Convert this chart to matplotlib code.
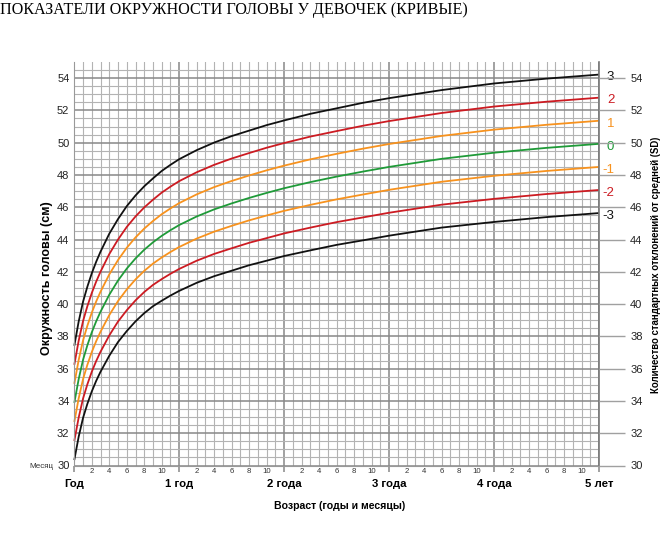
import numpy as np
import matplotlib.pyplot as plt

# WHO head circumference for girls, 0-60 months
MONTHS = [0, 0.5, 1, 1.5, 2, 2.5, 3, 4, 5, 6, 7, 8, 9, 10, 11, 12,
          14, 16, 18, 20, 22, 24, 27, 30, 33, 36, 42, 48, 54, 60]
SD_NEG3 = [30.34, 31.78, 32.95, 33.83, 34.59, 35.24, 35.81, 36.80, 37.65, 38.33, 38.93, 39.44,
           39.87, 40.21, 40.53, 40.82, 41.32, 41.73, 42.07, 42.41, 42.69, 42.98, 43.33, 43.67,
           43.95, 44.24, 44.74, 45.09, 45.39, 45.64]
SD_NEG2 = [31.52, 32.97, 34.15, 35.04, 35.81, 36.47, 37.05, 38.06, 38.92, 39.62, 40.23, 40.75,
           41.19, 41.55, 41.88, 42.18, 42.69, 43.11, 43.46, 43.80, 44.09, 44.38, 44.74, 45.08,
           45.37, 45.66, 46.16, 46.52, 46.82, 47.07]
SD_NEG1 = [32.70, 34.16, 35.35, 36.25, 37.03, 37.70, 38.29, 39.32, 40.19, 40.91, 41.53, 42.06,
           42.51, 42.89, 43.23, 43.54, 44.06, 44.49, 44.85, 45.19, 45.49, 45.78, 46.15, 46.49,
           46.79, 47.08, 47.58, 47.95, 48.25, 48.50]
SD_0 = [33.88, 35.35, 36.55, 37.46, 38.25, 38.93, 39.53, 40.58, 41.46, 42.20, 42.83, 43.37,
        43.83, 44.23, 44.58, 44.90, 45.43, 45.87, 46.24, 46.58, 46.89, 47.18, 47.56, 47.90,
        48.21, 48.50, 49.00, 49.38, 49.68, 49.93]
SD_POS1 = [35.06, 36.54, 37.75, 38.67, 39.47, 40.16, 40.77, 41.84, 42.73, 43.49, 44.13, 44.68,
           45.15, 45.57, 45.93, 46.26, 46.80, 47.25, 47.63, 47.97, 48.29, 48.58, 48.97, 49.31,
           49.63, 49.92, 50.42, 50.81, 51.11, 51.36]
SD_POS2 = [36.24, 37.73, 38.95, 39.88, 40.69, 41.39, 42.01, 43.10, 44.00, 44.78, 45.43, 45.99,
           46.47, 46.91, 47.28, 47.62, 48.17, 48.63, 49.02, 49.36, 49.69, 49.98, 50.38, 50.72,
           51.05, 51.34, 51.84, 52.24, 52.54, 52.79]
SD_POS3 = [37.42, 38.92, 40.15, 41.09, 41.91, 42.62, 43.25, 44.36, 45.27, 46.07, 46.73, 47.30,
           47.79, 48.25, 48.63, 48.98, 49.54, 50.01, 50.41, 50.75, 51.09, 51.38, 51.79, 52.13,
           52.47, 52.76, 53.26, 53.67, 53.97, 54.22]

SD_LABELS = ["3", "2", "1", "0", "-1", "-2", "-3"]
SD_SERIES = [SD_POS3, SD_POS2, SD_POS1, SD_0, SD_NEG1, SD_NEG2, SD_NEG3]
SD_COLORS = ["#111111", "#cc1b22", "#f7921e", "#1f9a38", "#f7921e", "#cc1b22", "#111111"]

YEAR_LABELS = ["Год", "1 год", "2 года", "3 года", "4 года", "5 лет"]
Y_TICKS = list(range(30, 55, 2))

SANS = ["Liberation Sans", "DejaVu Sans"]

fig = plt.figure(figsize=(6.72, 5.33), dpi=100)
W, H = 672, 533
ax = fig.add_axes([74.3 / W, 67.5 / H, (599 - 74.3) / W, (465.5 - 62) / H])
ax.set_xlim(0, 60)
ax.set_ylim(30, 55)

# grid: every month / every half cm, darker at years and every 2 cm
year_ticks = np.arange(0, 61, 12)
month_ticks = [m for m in range(1, 60) if m % 12 != 0]
ax.set_xticks(year_ticks)
ax.set_xticklabels(YEAR_LABELS, fontweight="bold", fontsize=8.2, family=SANS)
ax.set_xticks(month_ticks, minor=True)
ax.set_xticklabels([str(m % 12) if m % 12 in (2, 4, 6, 8, 10) else "" for m in month_ticks],
                   minor=True, fontsize=5.6, family=SANS, color="#333333")
ax.set_yticks(Y_TICKS)
ax.set_yticklabels([str(v) for v in Y_TICKS], fontsize=8, family=SANS, color="#222222")
ax.set_yticks(np.arange(30.5, 55, 0.5), minor=True)

ax.grid(which="minor", color="#b3b3b3", linewidth=0.8)
ax.grid(which="major", color="#888888", linewidth=1.1)
ax.set_axisbelow(True)

ax.tick_params(axis="x", which="major", length=4.5, width=1.1, color="#888888", pad=5.5)
ax.tick_params(axis="x", which="minor", length=0, pad=2)
ax.tick_params(axis="y", which="both", length=0, pad=3.5)

for side in ["left", "bottom"]:
    ax.spines[side].set_color("#999999")
ax.spines["right"].set_color("#777777")
ax.spines["right"].set_linewidth(1.2)
ax.spines["top"].set_visible(False)

# right axis with long gray ticks
ax2 = ax.twinx()
ax2.set_ylim(30, 55)
ax2.set_yticks(Y_TICKS)
ax2.set_yticklabels([str(v) for v in Y_TICKS], fontsize=8, family=SANS, color="#222222")
ax2.tick_params(axis="y", length=19, width=1, color="#a0a0a0", pad=3.5)
for s in ax2.spines.values():
    s.set_visible(False)

# curves
for label, vals, col in zip(SD_LABELS, SD_SERIES, SD_COLORS):
    ax.plot(MONTHS, vals, color=col, linewidth=1.3, solid_capstyle="butt", clip_on=False)
    ax.annotate(label, xy=(MONTHS[-1], vals[-1]), xytext=(11, -2), textcoords="offset points",
                ha="right", va="center", fontsize=9.5, color=col, family=SANS,
                annotation_clip=False)

# texts
fig.text(0.0, 1 - 10 / H, "ПОКАЗАТЕЛИ ОКРУЖНОСТИ ГОЛОВЫ У ДЕВОЧЕК (КРИВЫЕ)",
         family=["Liberation Serif", "DejaVu Serif"], fontsize=11.6, ha="left", va="center")
fig.text(47 / W, 1 - 278 / H, "Окружность головы (см)", rotation=90, fontsize=9,
         fontweight="bold", family=SANS, ha="center", va="center")
fig.text(656 / W, 1 - 265 / H, "Количество стандартных отклонений от средней (SD)",
         rotation=90, fontsize=6.9, fontweight="bold", family=SANS, ha="center", va="center")
fig.text(41.5 / W, 1 - 467 / H, "Месяц", fontsize=5.8, family=SANS, ha="center", va="center",
         color="#333333")
fig.text(340 / W, 1 - 506 / H, "Возраст (годы и месяцы)", fontsize=7.6, fontweight="bold",
         family=SANS, ha="center", va="center")

fig.savefig("out.png", dpi=100)
